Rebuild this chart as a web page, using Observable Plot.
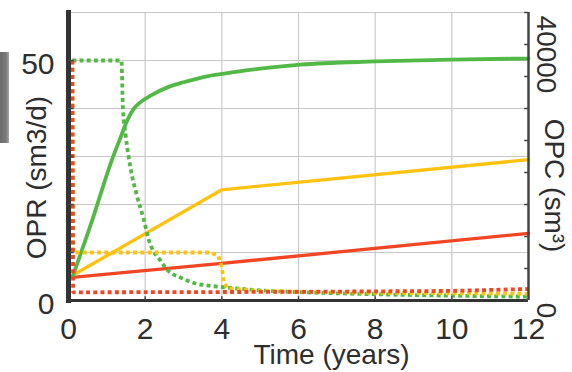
<!DOCTYPE html>
<html><head><meta charset="utf-8">
<script src="https://cdn.jsdelivr.net/npm/d3@7"></script>
<script src="https://cdn.jsdelivr.net/npm/@observablehq/plot@0.6"></script>
<style>
body{margin:0;background:#fff;position:relative}
#smudge{position:absolute;left:0;top:52px;width:9px;height:91px;background:linear-gradient(90deg,#6a6a6a,#7c7c7c 70%,#a8a8a8)}
</style>
</head><body><div id="chart"></div><div id="smudge"></div>
<script>
// ---- data ----
// OPC (sm3), right axis — solid lines
const greenOpcT = [0.1, 0.6, 1.14, 1.36, 1.53, 1.70, 1.88, 2.14, 2.58, 3.0, 3.44, 3.88, 4.31, 5.18, 6.05, 8, 10, 12];
const greenOpc  = [3600, 12200, 22100, 25500, 28100, 29950, 31000, 32000, 33300, 34100, 34800, 35300, 35700, 36350, 36850, 37350, 37650, 37800];
const yellowOpcT = [0.1, 4, 12];
const yellowOpc  = [3900, 17300, 22000];
const redOpcT = [0.1, 4, 12];
const redOpc  = [3600, 5800, 10500];
// OPR (sm3/d), left axis — dotted lines
const greenOprT = [0.1, 1.38, 1.42, 1.49, 1.62, 1.78, 1.96, 2.1, 2.4, 2.6, 2.92, 3.3, 4.15, 5, 6.2, 8, 10, 12];
const greenOpr  = [50, 50, 40, 34.5, 27.5, 22, 17, 12.5, 8.3, 6.2, 4.8, 3.6, 2.7, 2.1, 1.7, 1.3, 1.0, 0.8];
const yellowOprT = [0.1, 0.12, 3.7, 3.9, 4.0, 4.05, 4.15, 5, 8, 12];
const yellowOpr  = [50, 10, 10, 9.4, 7, 3.8, 2.5, 2.0, 1.6, 1.4];
const redOprT = [0.1, 0.12, 6, 10, 12];
const redOpr  = [50, 1.7, 1.8, 2.0, 2.4];
// ticks
const xTicks = [0, 2, 4, 6, 8, 10, 12];
const leftTickLabels = [0, 50];
const leftGrid = [10, 20, 30, 40, 50, 60];
const rightTicks = [0, 5000, 10000, 15000, 20000, 25000, 30000, 35000, 40000, 45000];
const rightTickLabels = [0, 40000];
const rightMax = 45000, leftMax = 60;
const k = rightMax / leftMax;

const C = {green: "#52b947", yellow: "#ffc20f", red: "#f04624"};
const rows = (ts, vs, scale = 1) => ts.map((t, i) => ({t, v: vs[i] / scale}));

const solid = (ts, vs, color, w, curve) => Plot.line(rows(ts, vs, k), {x: "t", y: "v", stroke: color, strokeWidth: w, curve});
const dotted = (ts, vs, color, curve) => Plot.line(rows(ts, vs), {x: "t", y: "v", stroke: color, strokeWidth: 3.8, strokeDasharray: "4 3.2", strokeLinecap: "butt", strokeLinejoin: "miter", curve});

const chart = Plot.plot({
  width: 572, height: 372,
  marginLeft: 68, marginRight: 44, marginTop: 12, marginBottom: 72,
  style: {fontFamily: "'Liberation Sans', Arial, sans-serif", color: "#2e2e2e", background: "#fff", overflow: "visible"},
  x: {domain: [0, 12], label: null},
  y: {domain: [0, leftMax], label: null},
  marks: [
    Plot.gridX([2, 4, 6, 8, 10], {stroke: "#c9c9c9", strokeOpacity: 1, strokeWidth: 1.2}),
    Plot.gridY(leftGrid, {stroke: "#c9c9c9", strokeOpacity: 1, strokeWidth: 1.2}),
    solid(redOpcT, redOpc, C.red, 3.3),
    solid(yellowOpcT, yellowOpc, C.yellow, 3.3),
    solid(greenOpcT, greenOpc, C.green, 3.8, "monotone-x"),
    dotted(greenOprT, greenOpr, C.green, "monotone-x"),
    dotted(yellowOprT, yellowOpr, C.yellow),
    dotted(redOprT, redOpr, C.red),
    // axis lines
    Plot.ruleY([0], {stroke: "#333", strokeWidth: 3}),
    Plot.ruleX([12], {stroke: "#444", strokeWidth: 2.5}),
    Plot.ruleX([0], {y1: -0.6, y2: leftMax + 0.4, stroke: "#333", strokeWidth: 5}),
    // inward ticks
    Plot.ruleX(xTicks.slice(1, -1), {y1: 0, y2: 0.8, stroke: "#444", strokeWidth: 1.5}),
    Plot.ruleY([10, 20, 30, 40, 50], {x1: 0, x2: 0.15, stroke: "#444", strokeWidth: 1.5}),
    Plot.ruleY(rightTicks.map(d => d / k), {x1: 11.9, x2: 12, stroke: "#444", strokeWidth: 1.5}),
    // tick labels
    Plot.axisX({ticks: xTicks, tickSize: 0, tickPadding: 17, fontSize: 30, label: null}),
    Plot.axisY({anchor: "left", ticks: leftTickLabels, tickSize: 0, tickPadding: 14, fontSize: 30, dy: 4, label: null}),
    Plot.axisY({anchor: "right", ticks: rightTickLabels.map(d => d / k), tickFormat: d => String(Math.round(d * k)),
      tickSize: 0, tickPadding: 8, tickRotate: 90, textAnchor: "middle", lineAnchor: "bottom", dy: 10, fontSize: 28, label: null}),
    // axis titles
    Plot.text(["Time (years)"], {frameAnchor: "bottom", dx: 33, dy: 55, fontSize: 28, textAnchor: "middle", lineAnchor: "middle"}),
    Plot.text(["OPR (sm3/d)"], {frameAnchor: "left", rotate: -90, dx: -31, dy: 21, fontSize: 28, textAnchor: "middle", lineAnchor: "middle"}),
    Plot.text(["OPC (sm³)"], {frameAnchor: "right", rotate: 90, dx: 25, dy: 29, fontSize: 28, textAnchor: "middle", lineAnchor: "middle"})
  ]
});
document.getElementById("chart").appendChild(chart);
</script></body></html>
